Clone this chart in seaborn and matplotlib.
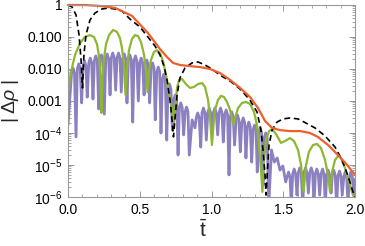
import numpy as np
import pandas as pd
import matplotlib
matplotlib.use("Agg")
import matplotlib.pyplot as plt
import matplotlib.ticker as mticker
import seaborn as sns

# ---------------- data (t, log10|Δρ|) ----------------
red_t = [0.000, 0.118, 0.223, 0.328, 0.446, 0.557, 0.641, 0.690, 0.732, 0.780,
         0.850, 0.920, 0.990, 1.059, 1.129, 1.199, 1.268, 1.324, 1.373, 1.422,
         1.477, 1.547, 1.617, 1.686, 1.742, 1.812, 1.882, 1.951, 2.000]
red_log = [0.00, 0.00, -0.03, -0.09, -0.34, -0.875, -1.375, -1.625, -1.81, -1.875,
           -1.91, -1.94, -2.00, -2.125, -2.34, -2.59, -2.875, -3.22, -3.625, -3.84,
           -3.91, -3.94, -3.94, -4.00, -4.125, -4.375, -4.69, -5.03, -5.31]

black_t = [0.000, 0.028, 0.056, 0.077, 0.091, 0.101, 0.111, 0.125, 0.153, 0.188,
           0.237, 0.279, 0.328, 0.376, 0.432, 0.502, 0.557, 0.606, 0.641, 0.669,
           0.690, 0.711, 0.725, 0.735, 0.746, 0.760, 0.780, 0.815, 0.864, 0.906,
           0.955, 1.003, 1.059, 1.129, 1.199, 1.268, 1.317, 1.345, 1.359, 1.373,
           1.380, 1.390, 1.401, 1.422, 1.456, 1.498, 1.547, 1.603, 1.659, 1.721,
           1.791, 1.861, 1.909, 1.951, 1.986, 2.000]
black_log = [0.00, -0.06, -0.31, -0.94, -1.72, -2.59, -1.56, -0.94, -0.47, -0.25,
             -0.125, -0.094, -0.125, -0.19, -0.44, -0.69, -1.00, -1.28, -1.56, -1.91,
             -2.34, -2.97, -3.59, -4.12, -3.53, -2.81, -2.28, -1.97, -1.81, -1.78,
             -1.875, -2.00, -2.19, -2.375, -2.625, -2.97, -3.34, -3.91, -4.53, -5.31,
             -5.94, -5.16, -4.375, -3.91, -3.66, -3.56, -3.53, -3.56, -3.69, -3.84,
             -4.09, -4.44, -4.84, -5.34, -5.84, -6.00]

green_t = [0.000, 0.021, 0.049, 0.084, 0.118, 0.153, 0.181, 0.202, 0.216, 0.226,
           0.233, 0.240, 0.251, 0.265, 0.286, 0.314, 0.341, 0.362, 0.376, 0.390,
           0.401, 0.411, 0.425, 0.446, 0.467, 0.488, 0.509, 0.530, 0.544, 0.554,
           0.564, 0.578, 0.599, 0.620, 0.641, 0.662, 0.683, 0.704, 0.725, 0.739,
           0.749, 0.760, 0.774, 0.794, 0.822, 0.850, 0.878, 0.906, 0.934, 0.955,
           0.976, 0.990, 1.003, 1.014, 1.024, 1.045, 1.066, 1.087, 1.108, 1.129,
           1.143, 1.153, 1.164, 1.185, 1.213, 1.240, 1.268, 1.296, 1.317, 1.331,
           1.345, 1.355, 1.366, 1.380, 1.401, 1.422, 1.449, 1.484, 1.512, 1.547,
           1.575, 1.603, 1.624, 1.641, 1.659, 1.679, 1.707, 1.735, 1.763, 1.791,
           1.812, 1.826, 1.840, 1.861, 1.882, 1.902, 1.930, 1.958, 1.986, 2.000]
green_log = [-2.75, -2.09, -1.56, -1.19, -1.00, -0.94, -1.00, -1.22, -1.59, -2.19,
             -3.375, -2.28, -1.66, -1.22, -0.94, -0.78, -0.84, -1.03, -1.34, -1.875,
             -2.81, -1.97, -1.41, -1.06, -0.94, -0.97, -1.16, -1.56, -2.09, -2.72,
             -2.09, -1.72, -1.47, -1.41, -1.50, -1.75, -2.19, -2.72, -3.28, -3.66,
             -3.125, -2.59, -2.34, -2.31, -2.47, -2.59, -2.56, -2.47, -2.44, -2.56,
             -2.97, -3.53, -4.375, -3.75, -3.28, -2.97, -2.84, -2.875, -3.03, -3.28,
             -3.53, -3.75, -3.53, -3.22, -3.06, -3.03, -3.09, -3.34, -3.75, -4.375,
             -5.16, -5.84, -4.84, -4.22, -3.94, -3.875, -4.03, -4.31, -4.25, -4.16,
             -4.25, -4.53, -5.00, -5.84, -5.00, -4.59, -4.375, -4.34, -4.47, -4.84,
             -5.31, -5.84, -5.22, -4.84, -4.72, -4.78, -5.09, -5.53, -5.94, -6.03]

# purple: per lobe -> rising shoulder, crest, falling shoulder, trough
purple_points = [
    (0.000, -3.75),
    (0.025, -2.12), (0.035, -1.97), (0.045, -2.12), (0.056, -4.12),
    (0.065, -1.99), (0.075, -1.84), (0.085, -1.99), (0.095, -3.06),
    (0.105, -1.90), (0.115, -1.75), (0.125, -1.90), (0.134, -2.88),
    (0.145, -1.81), (0.155, -1.66), (0.165, -1.81), (0.174, -2.94),
    (0.184, -1.74), (0.194, -1.59), (0.204, -1.74), (0.214, -3.25),
    (0.223, -1.71), (0.233, -1.56), (0.243, -1.71), (0.253, -3.41),
    (0.263, -1.68), (0.273, -1.53), (0.283, -1.68), (0.293, -2.81),
    (0.302, -1.65), (0.312, -1.50), (0.322, -1.65), (0.332, -2.66),
    (0.342, -1.65), (0.352, -1.50), (0.362, -1.65), (0.371, -2.72),
    (0.382, -1.68), (0.392, -1.53), (0.402, -1.68), (0.411, -3.06),
    (0.421, -1.71), (0.431, -1.56), (0.441, -1.71), (0.451, -3.66),
    (0.460, -1.74), (0.470, -1.59), (0.480, -1.74), (0.490, -3.00),
    (0.500, -1.81), (0.510, -1.66), (0.520, -1.81), (0.530, -2.81),
    (0.539, -1.87), (0.549, -1.72), (0.559, -1.87), (0.569, -3.06),
    (0.579, -1.96), (0.589, -1.81), (0.599, -1.96), (0.608, -3.59),
    (0.619, -2.09), (0.629, -1.94), (0.639, -2.09), (0.648, -4.00),
    (0.658, -2.31), (0.668, -2.16), (0.678, -2.31), (0.688, -4.22),
    (0.697, -2.62), (0.707, -2.47), (0.717, -2.62), (0.727, -3.91),
    (0.737, -2.96), (0.747, -2.81), (0.757, -2.96), (0.767, -4.69),
    (0.776, -3.21), (0.786, -3.06), (0.796, -3.21), (0.806, -4.06),
    (0.816, -3.34), (0.826, -3.19), (0.836, -3.34), (0.845, -4.69),
    (0.865, -3.59), (0.885, -3.84),
    (0.894, -3.52), (0.904, -3.375), (0.914, -3.52), (0.925, -4.44),
    (0.934, -3.37), (0.944, -3.22), (0.954, -3.37), (0.964, -4.22),
    (0.974, -3.37), (0.984, -3.22), (0.994, -3.37), (1.003, -3.97),
    (1.013, -3.37), (1.023, -3.22), (1.033, -3.37), (1.043, -4.06),
    (1.053, -3.37), (1.063, -3.22), (1.073, -3.37), (1.082, -4.28),
    (1.092, -3.43), (1.102, -3.28), (1.112, -3.43), (1.122, -5.31),
    (1.131, -3.49), (1.141, -3.34), (1.151, -3.49), (1.161, -4.375),
    (1.171, -3.59), (1.181, -3.44), (1.191, -3.59), (1.201, -4.59),
    (1.211, -3.68), (1.221, -3.53), (1.231, -3.68), (1.240, -4.78),
    (1.250, -3.81), (1.260, -3.66), (1.270, -3.81), (1.280, -4.91),
    (1.290, -3.90), (1.300, -3.75), (1.310, -3.90), (1.319, -5.22),
    (1.329, -3.99), (1.339, -3.84), (1.349, -3.99), (1.359, -5.625),
    (1.368, -4.15), (1.378, -4.00), (1.388, -4.15), (1.399, -6.25),
    (1.418, -4.53), (1.438, -4.91), (1.458, -4.78), (1.477, -5.16),
    (1.497, -5.03), (1.517, -5.53),
    (1.527, -5.37), (1.537, -5.22), (1.547, -5.37), (1.556, -6.25),
    (1.566, -5.28), (1.576, -5.125), (1.586, -5.28), (1.596, -5.94),
    (1.605, -5.24), (1.615, -5.09), (1.625, -5.24), (1.636, -6.25),
    (1.645, -5.24), (1.655, -5.09), (1.665, -5.24), (1.675, -5.875),
    (1.685, -5.24), (1.695, -5.09), (1.705, -5.24), (1.714, -6.25),
    (1.724, -5.28), (1.734, -5.125), (1.744, -5.28), (1.754, -5.94),
    (1.764, -5.28), (1.774, -5.125), (1.784, -5.28), (1.793, -6.25),
    (1.803, -5.31), (1.813, -5.16), (1.823, -5.31), (1.833, -5.875),
    (1.842, -5.31), (1.852, -5.16), (1.862, -5.31), (1.872, -6.25),
    (1.882, -5.34), (1.892, -5.19), (1.902, -5.34), (1.911, -5.94),
    (1.922, -5.37), (1.932, -5.22), (1.942, -5.37), (1.951, -6.25),
    (1.961, -5.37), (1.971, -5.22), (1.981, -5.37), (1.991, -5.94),
    (2.000, -5.47),
]
purple_t = [p[0] for p in purple_points]
purple_log = [p[1] for p in purple_points]

x_ticks = [0.0, 0.5, 1.0, 1.5, 2.0]
x_tick_labels = ["0.0", "0.5", "1.0", "1.5", "2.0"]
y_ticks = [1, 1e-1, 1e-2, 1e-3, 1e-4, 1e-5, 1e-6]
y_tick_labels = ["1", "0.100", "0.010", "0.001", r"$10^{-4}$", r"$10^{-5}$", r"$10^{-6}$"]

# ---------------- style ----------------
sns.set_style("ticks")
plt.rcParams["font.family"] = ["Liberation Sans", "DejaVu Sans"]
plt.rcParams["mathtext.fontset"] = "custom"
plt.rcParams["mathtext.rm"] = "Liberation Sans"
plt.rcParams["mathtext.it"] = "Liberation Sans:italic"
plt.rcParams["mathtext.default"] = "regular"

fig = plt.figure(figsize=(3.65, 2.46), dpi=100)
ax = fig.add_axes([68 / 365, 1 - 197 / 246, 287 / 365, 192 / 246])

def frame(t, lg):
    return pd.DataFrame({"t": t, "v": 10.0 ** np.asarray(lg)})

purple_c = "#8C80C0"
green_c = "#8DB733"
red_c = "#EF5F2E"

sns.lineplot(data=frame(purple_t, purple_log), x="t", y="v", ax=ax, color=purple_c,
             linewidth=2.0, estimator=None, sort=False)
ax.lines[-1].set_solid_joinstyle("round")
sns.lineplot(data=frame(green_t, green_log), x="t", y="v", ax=ax, color=green_c,
             linewidth=1.6, estimator=None, sort=False)
ax.lines[-1].set_solid_joinstyle("round")
sns.lineplot(data=frame(black_t, black_log), x="t", y="v", ax=ax, color="black",
             linewidth=1.2, estimator=None, sort=False)
ax.lines[-1].set_dashes([3.5, 2.2])
sns.lineplot(data=frame(red_t, red_log), x="t", y="v", ax=ax, color=red_c,
             linewidth=1.6, estimator=None, sort=False)
ax.lines[-1].set_clip_on(False)

ax.set_yscale("log")
ax.set_xlim(0, 2.0)
ax.set_ylim(1e-6, 1.0)

ax.set_xticks(x_ticks)
ax.set_xticklabels(x_tick_labels)
ax.xaxis.set_minor_locator(mticker.MultipleLocator(0.1))
ax.set_yticks(y_ticks)
ax.set_yticklabels(y_tick_labels)
ax.yaxis.set_minor_locator(mticker.LogLocator(base=10, subs=np.arange(2, 10), numticks=20))
ax.yaxis.set_minor_formatter(mticker.NullFormatter())

frame_c = "#999999"
for s in ax.spines.values():
    s.set_color(frame_c)
    s.set_linewidth(0.8)
ax.tick_params(which="both", direction="in", top=True, right=True, color=frame_c,
               labelsize=10, labelcolor="black")
ax.tick_params(which="major", length=4, width=0.7, pad=4)
ax.tick_params(which="minor", length=2, width=0.6)

ax.set_xlabel(r"$\bar{t}$", fontsize=15)
ax.set_ylabel(r"$|\;\Delta\mathit{\rho}\;|$", fontsize=14)
ax.xaxis.set_label_coords(0.47, -0.115)
ax.yaxis.set_label_coords(-0.165, 0.5)

fig.savefig("out.png", dpi=100)
